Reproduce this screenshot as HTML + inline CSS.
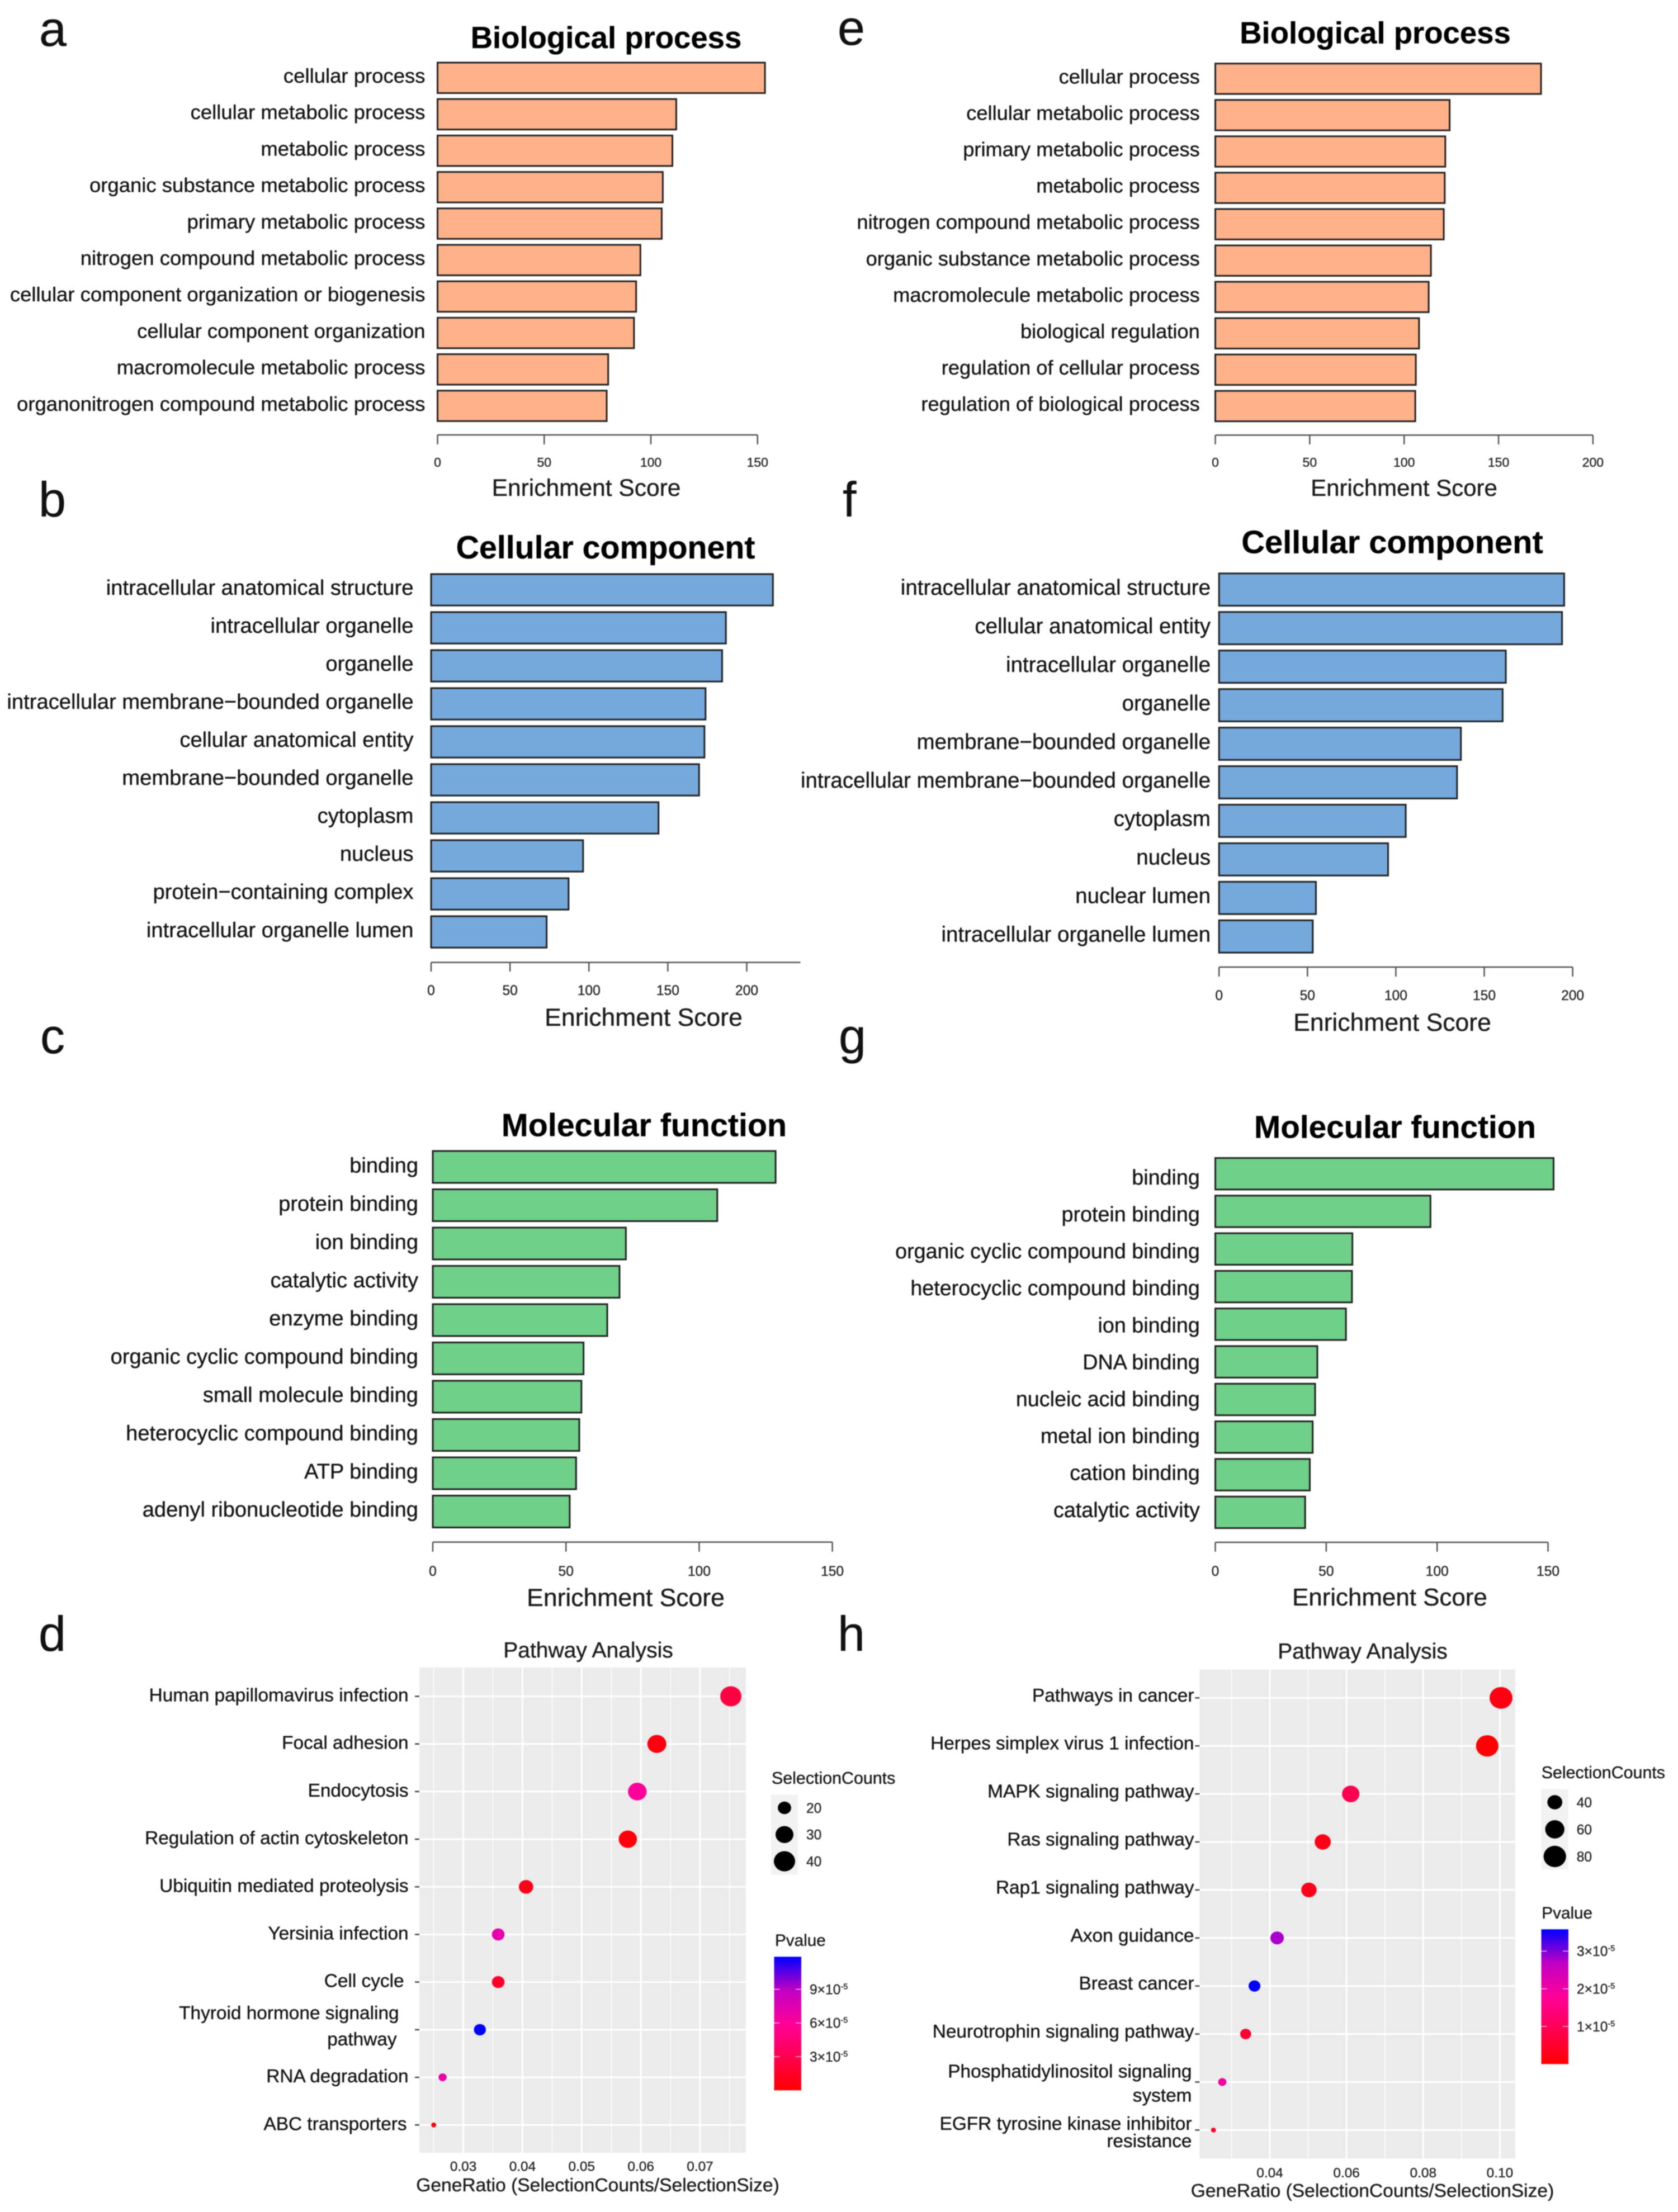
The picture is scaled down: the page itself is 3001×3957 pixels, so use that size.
<!DOCTYPE html>
<html lang="en">
<head>
<meta charset="utf-8">
<title>Enrichment and pathway analysis figure</title>
<style>
html,body{margin:0;padding:0;background:#fff;}
svg{display:block;filter:blur(0.8px);font-family:"Liberation Sans",Arial,sans-serif;}
text{stroke:#000;stroke-width:0.35px;}
.letter{font-size:88px;fill:#111;}
.title{font-weight:bold;fill:#000;text-anchor:middle;}
.axis-title{fill:#1c1c1c;text-anchor:middle;}
.path-title{fill:#1c1c1c;text-anchor:middle;font-size:39px;}
.gene-title{fill:#1c1c1c;text-anchor:middle;font-size:33.6px;}
.legend-title{fill:#1c1c1c;}
</style>
</head>
<body>
<svg xmlns="http://www.w3.org/2000/svg" width="3001" height="3957" viewBox="0 0 3001 3957">
  <defs>
    <linearGradient id="pvalue-gradient" x1="0" y1="1" x2="0" y2="0">
      <stop offset="0" stop-color="#ff0000"/>
      <stop offset="0.25" stop-color="#ff0050"/>
      <stop offset="0.5" stop-color="#ff0098"/>
      <stop offset="0.75" stop-color="#c000c4"/>
      <stop offset="1" stop-color="#0000ff"/>
    </linearGradient>
  </defs>
  <rect x="0" y="0" width="3001" height="3957" fill="#ffffff"/>

  <text class="letter" x="70" y="82">a</text>
  <text class="letter" x="69" y="924">b</text>
  <text class="letter" x="72" y="1884">c</text>
  <text class="letter" x="69" y="2953">d</text>
  <text class="letter" x="1498" y="80">e</text>
  <text class="letter" x="1507" y="924">f</text>
  <text class="letter" x="1500" y="1884">g</text>
  <text class="letter" x="1498" y="2953">h</text>

  <text class="title" x="1084" y="86" font-size="54.5">Biological process</text>
  <text class="axis-title" x="1048.5" y="887" font-size="42.5">Enrichment Score</text>
  <text class="title" x="2459.5" y="77.5" font-size="54.5">Biological process</text>
  <text class="axis-title" x="2511" y="887" font-size="42">Enrichment Score</text>
  <text class="title" x="1083" y="999" font-size="57.3">Cellular component</text>
  <text class="axis-title" x="1151" y="1835" font-size="44.5">Enrichment Score</text>
  <text class="title" x="2490" y="989.5" font-size="57.8">Cellular component</text>
  <text class="axis-title" x="2490" y="1844" font-size="44.5">Enrichment Score</text>
  <text class="title" x="1152" y="2032.4" font-size="57.4">Molecular function</text>
  <text class="axis-title" x="1119" y="2873" font-size="44.5">Enrichment Score</text>
  <text class="title" x="2495" y="2035.7" font-size="56.7">Molecular function</text>
  <text class="axis-title" x="2485.4" y="2872" font-size="43.9">Enrichment Score</text>

  <text class="path-title" x="1052" y="2965">Pathway Analysis</text>
  <text class="gene-title" x="1069" y="3920">GeneRatio (SelectionCounts/SelectionSize)</text>
  <text class="legend-title" x="1380" y="3191" font-size="30.4">SelectionCounts</text>
  <text class="legend-title" x="1386" y="3481" font-size="29.7">Pvalue</text>

  <text class="path-title" x="2437" y="2967">Pathway Analysis</text>
  <text class="gene-title" x="2454.5" y="3930">GeneRatio (SelectionCounts/SelectionSize)</text>
  <text class="legend-title" x="2756.7" y="3181" font-size="30.4">SelectionCounts</text>
  <text class="legend-title" x="2757.3" y="3432" font-size="29.7">Pvalue</text>

  <g id="panel-a"></g>
  <g id="panel-b"></g>
  <g id="panel-c"></g>
  <g id="panel-e"></g>
  <g id="panel-f"></g>
  <g id="panel-g"></g>
  <g id="panel-d"></g>
  <g id="panel-h"></g>
</svg>

<script>
/* ---------- Panel a ---------- */
const categoriesA = ["cellular process","cellular metabolic process","metabolic process","organic substance metabolic process","primary metabolic process","nitrogen compound metabolic process","cellular component organization or biogenesis","cellular component organization","macromolecule metabolic process","organonitrogen compound metabolic process"];
const valuesA = [153.5,111.9,110.1,105.6,105.1,95.1,93.1,92.1,80.0,79.3];
const ticksA = [0,50,100,150];

/* ---------- Panel b ---------- */
const categoriesB = ["intracellular anatomical structure","intracellular organelle","organelle","intracellular membrane\u2212bounded organelle","cellular anatomical entity","membrane\u2212bounded organelle","cytoplasm","nucleus","protein\u2212containing complex","intracellular organelle lumen"];
const valuesB = [216.6,186.8,184.4,173.9,173.2,169.8,144.1,96.3,87.1,73.2];
const ticksB = [0,50,100,150,200];

/* ---------- Panel c ---------- */
const categoriesC = ["binding","protein binding","ion binding","catalytic activity","enzyme binding","organic cyclic compound binding","small molecule binding","heterocyclic compound binding","ATP binding","adenyl ribonucleotide binding"];
const valuesC = [128.7,106.8,72.5,70.1,65.5,56.6,55.8,55.0,53.8,51.4];
const ticksC = [0,50,100,150];

/* ---------- Panel e ---------- */
const categoriesE = ["cellular process","cellular metabolic process","primary metabolic process","metabolic process","nitrogen compound metabolic process","organic substance metabolic process","macromolecule metabolic process","biological regulation","regulation of cellular process","regulation of biological process"];
const valuesE = [172.5,124.1,121.8,121.5,121.0,114.2,113.0,107.9,106.2,105.9];
const ticksE = [0,50,100,150,200];

/* ---------- Panel f ---------- */
const categoriesF = ["intracellular anatomical structure","cellular anatomical entity","intracellular organelle","organelle","membrane\u2212bounded organelle","intracellular membrane\u2212bounded organelle","cytoplasm","nucleus","nuclear lumen","intracellular organelle lumen"];
const valuesF = [195.2,194.0,162.2,160.4,136.8,134.6,105.6,95.6,54.8,53.0];
const ticksF = [0,50,100,150,200];

/* ---------- Panel g ---------- */
const categoriesG = ["binding","protein binding","organic cyclic compound binding","heterocyclic compound binding","ion binding","DNA binding","nucleic acid binding","metal ion binding","cation binding","catalytic activity"];
const valuesG = [152.5,97.0,61.8,61.6,58.9,46.0,45.0,43.9,42.6,40.5];
const ticksG = [0,50,100,150];

/* ---------- Panel d ---------- */
const pathwaysD = ["Human papillomavirus infection","Focal adhesion","Endocytosis","Regulation of actin cytoskeleton","Ubiquitin mediated proteolysis","Yersinia infection","Cell cycle","Thyroid hormone signaling\npathway","RNA degradation","ABC transporters"];
const geneRatioD = [0.0752,0.0627,0.0594,0.0578,0.0406,0.0359,0.0359,0.0328,0.0265,0.0250];
const countsD = [40,33,32,31,22,19,19,18,14,13];
const pvaluesD = [2.5e-5,0.7e-5,6.0e-5,0.5e-5,1.0e-5,7.1e-5,1.6e-5,11.9e-5,7.0e-5,0.5e-5];
const xTicksD = [0.03,0.04,0.05,0.06,0.07];
const xMinorTicksD = [0.025,0.035,0.045,0.055,0.065,0.075];
const sizeLegendD = [20,30,40];
const pvalueTicksD = [3e-5,6e-5,9e-5];

/* ---------- Panel h ---------- */
const pathwaysH = ["Pathways in cancer","Herpes simplex virus 1 infection","MAPK signaling pathway","Ras signaling pathway","Rap1 signaling pathway","Axon guidance","Breast cancer","Neurotrophin signaling pathway","Phosphatidylinositol signaling\nsystem","EGFR tyrosine kinase inhibitor\nresistance"];
const geneRatioH = [0.1003,0.0967,0.0611,0.0538,0.0502,0.0419,0.0360,0.0337,0.0276,0.0253];
const countsH = [83,80,51,45,42,35,30,28,23,21];
const pvaluesH = [0.2e-5,0.05e-5,0.9e-5,0.25e-5,0.3e-5,2.8e-5,3.58e-5,0.55e-5,1.95e-5,0.5e-5];
const xTicksH = [0.04,0.06,0.08,0.10];
const xMinorTicksH = [0.03,0.05,0.07,0.09];
const sizeLegendH = [40,60,80];
const pvalueTicksH = [1e-5,2e-5,3e-5];

const SVG_NS = "http://www.w3.org/2000/svg";

function make(tag, attrs, parent, text) {
  const node = document.createElementNS(SVG_NS, tag);
  for (const key in attrs) node.setAttribute(key, attrs[key]);
  if (text !== undefined) node.textContent = text;
  parent.appendChild(node);
  return node;
}

function drawBarPanel(id, categories, values, ticks, cfg) {
  const root = document.getElementById(id);
  const xScale = v => cfg.x0 + v * cfg.pxPerUnit;
  const yTop = i => cfg.barTop + i * cfg.barPitch;

  categories.forEach((name, i) => {
    const bar = make("rect", {x: xScale(0), y: yTop(i), width: xScale(values[i]) - xScale(0), height: cfg.barHeight, fill: cfg.fill, stroke: "#222", "stroke-width": 3}, root);
    
    
    const labelCenter = cfg.labelTop + i * cfg.labelPitch;
    const label = make("text", {x: cfg.labelRight, y: labelCenter + cfg.labelSize * 0.33, "font-size": cfg.labelSize, "text-anchor": "end", fill: "#151515"}, root, name);
    
    
  });

  const axisLine = make("line", {x1: xScale(0), x2: xScale(cfg.axisMax), y1: cfg.axisY, y2: cfg.axisY, stroke: "#555", "stroke-width": 2.5}, root);
  
  

  ticks.forEach(t => {
    const tick = make("line", {x1: xScale(t), x2: xScale(t), y1: cfg.axisY, y2: cfg.tickEnd, stroke: "#555", "stroke-width": 2.5}, root);
    
    
    const tickLabel = make("text", {x: xScale(t), y: cfg.tickLabelY + cfg.tickSize * 0.36, "font-size": cfg.tickSize, "text-anchor": "middle", fill: "#2e2e2e"}, root, String(t));
    
    
  });
}

const pColorStops = [[0,[255,0,0]],[0.25,[255,0,80]],[0.5,[255,0,152]],[0.75,[192,0,196]],[1,[0,0,255]]];
function pColor(fraction) {
  const f = Math.max(0, Math.min(1, fraction));
  for (let i = 1; i < pColorStops.length; i++) {
    if (f <= pColorStops[i][0]) {
      const a = pColorStops[i - 1], b = pColorStops[i];
      const t = (f - a[0]) / (b[0] - a[0]);
      const c = a[1].map((v, k) => Math.round(v + (b[1][k] - v) * t));
      return "rgb(" + c.join(",") + ")";
    }
  }
  return "rgb(0,0,255)";
}

function drawDotPanel(id, pathways, ratios, counts, pvalues, xTicks, xMinor, sizeTicks, pTicks, cfg) {
  const root = document.getElementById(id);
  const xScale = v => cfg.tickX0 + (v - cfg.tickV0) * cfg.pxPerUnit;
  const yScale = i => cfg.rowTop + i * cfg.rowPitch;
  const diameter = c => cfg.dMin + (cfg.dMax - cfg.dMin) * Math.sqrt(Math.max(0, (c - cfg.cMin) / (cfg.cMax - cfg.cMin)));

  const plotArea = make("rect", {x: cfg.left, y: cfg.top, width: cfg.right - cfg.left, height: cfg.bottom - cfg.top, fill: "#ebebeb"}, root);
  
  

  xMinor.forEach(t => {
    const g = make("line", {x1: xScale(t), x2: xScale(t), y1: cfg.top, y2: cfg.bottom, stroke: "#fff", "stroke-width": 1.5}, root);
    
    
  });
  xTicks.forEach(t => {
    const g = make("line", {x1: xScale(t), x2: xScale(t), y1: cfg.top, y2: cfg.bottom, stroke: "#fff", "stroke-width": 3}, root);
    
    
    const lab = make("text", {x: xScale(t), y: cfg.xLabelY + 8.8, "font-size": 24.4, "text-anchor": "middle", fill: "#2e2e2e"}, root, t.toFixed(2));
    
    
  });

  pathways.forEach((name, i) => {
    const y = yScale(i);
    const grid = make("line", {x1: cfg.left, x2: cfg.right, y1: y, y2: y, stroke: "#fff", "stroke-width": 3}, root);
    
    
    const tick = make("line", {x1: cfg.left - 8, x2: cfg.left, y1: y, y2: y, stroke: "#444", "stroke-width": 2.5}, root);
    
    

    const lines = name.split("\n");
    const nudge = cfg.labelNudge[i] || 0;
    const gap = cfg.lineGap[i] || 0;
    const shift = cfg.lineShift[i] || 0;
    lines.forEach((line, k) => {
      const cy = y + cfg.labelLift + shift + (k - (lines.length - 1) / 2) * gap;
      const lab = make("text", {x: cfg.labelRight + nudge - (k * (cfg.secondLineNudge || 0)), y: cy + 33.4 * 0.33, "font-size": 33.4, "text-anchor": "end", fill: "#151515"}, root, line);
      
      
    });
  });

  pathways.forEach((name, i) => {
    const d = diameter(counts[i]);
    const dot = make("ellipse", {cx: xScale(ratios[i]), cy: yScale(i), rx: d / 2, ry: d / 2 * 0.95, fill: pColor(pvalues[i] / cfg.pMax)}, root);
    
    
  });

  /* size legend */
  const keyBox = make("rect", {x: cfg.keyX, y: cfg.keyY, width: 48, height: cfg.keyH, fill: "#f2f2f2"}, root);
  
  
  sizeTicks.forEach((c, i) => {
    const cy = cfg.keyRow0 + i * cfg.keyPitch;
    const d = diameter(c);
    const key = make("ellipse", {cx: cfg.keyX + 24, cy: cy, rx: d / 2, ry: d / 2 * 0.95, fill: "#000"}, root);
    
    
    const lab = make("text", {x: cfg.keyX + 63, y: cy + 8.8, "font-size": 24.6, fill: "#2e2e2e"}, root, String(c));
    
    
  });

  /* colour legend */
  const barHeight = cfg.barBottom - cfg.barTop;
  const colorBar = make("rect", {x: cfg.barX, y: cfg.barTop, width: 48.5, height: barHeight, fill: "url(#pvalue-gradient)"}, root);
  
  
  pTicks.forEach(p => {
    const y = cfg.barBottom - (p / cfg.pMax) * barHeight;
    const leftTick = make("line", {x1: cfg.barX, x2: cfg.barX + 10, y1: y, y2: y, stroke: "#fff", "stroke-opacity": 0.7, "stroke-width": 1.5}, root);
    
    
    const rightTick = make("line", {x1: cfg.barX + 38.5, x2: cfg.barX + 48.5, y1: y, y2: y, stroke: "#fff", "stroke-opacity": 0.7, "stroke-width": 1.5}, root);
    
    
    const lab = make("text", {x: cfg.barX + 63.5, y: y + 8.8, "font-size": 24.6, fill: "#2e2e2e"}, root, Math.round(p * 1e5) + "\u00d710");
    
    
    const sup = make("tspan", {"font-size": 14.5, dy: -9}, lab, "-5");
    
    
  });
}

const FILL_ORANGE = "#ffb28a";
const FILL_BLUE = "#75a8dc";
const FILL_GREEN = "#70cf88";

drawBarPanel("panel-a", categoriesA, valuesA, ticksA, {x0: 782.5, pxPerUnit: 3.815, axisMax: 150, barTop: 112, barHeight: 54.5, barPitch: 65.2, fill: FILL_ORANGE, axisY: 778, tickEnd: 795, tickLabelY: 826.6, tickSize: 23, labelRight: 760.5, labelSize: 36.5, labelTop: 136, labelPitch: 65.2});
drawBarPanel("panel-e", categoriesE, valuesE, ticksE, {x0: 2173.5, pxPerUnit: 3.377, axisMax: 200, barTop: 113.7, barHeight: 54.4, barPitch: 65.06, fill: FILL_ORANGE, axisY: 778.4, tickEnd: 795, tickLabelY: 826.6, tickSize: 23, labelRight: 2145.8, labelSize: 36.3, labelTop: 137.5, labelPitch: 65.06});
drawBarPanel("panel-b", categoriesB, valuesB, ticksB, {x0: 771, pxPerUnit: 2.8225, axisMax: 234, barTop: 1027, barHeight: 56.2, barPitch: 68, fill: FILL_BLUE, axisY: 1721.6, tickEnd: 1738, tickLabelY: 1771, tickSize: 24.6, labelRight: 739.5, labelSize: 38.2, labelTop: 1051.3, labelPitch: 68.04});
drawBarPanel("panel-f", categoriesF, valuesF, ticksF, {x0: 2180.2, pxPerUnit: 3.162, axisMax: 200, barTop: 1025.8, barHeight: 57.8, barPitch: 68.95, fill: FILL_BLUE, axisY: 1730, tickEnd: 1747, tickLabelY: 1780, tickSize: 24.6, labelRight: 2165, labelSize: 38.5, labelTop: 1051.3, labelPitch: 68.95});
drawBarPanel("panel-c", categoriesC, valuesC, ticksC, {x0: 774, pxPerUnit: 4.764, axisMax: 150, barTop: 2059, barHeight: 57, barPitch: 68.5, fill: FILL_GREEN, axisY: 2758.6, tickEnd: 2775.8, tickLabelY: 2810, tickSize: 24.6, labelRight: 748, labelSize: 38.1, labelTop: 2085, labelPitch: 68.4});
drawBarPanel("panel-g", categoriesG, valuesG, ticksG, {x0: 2173.5, pxPerUnit: 3.967, axisMax: 150, barTop: 2071.5, barHeight: 56.4, barPitch: 67.3, fill: FILL_GREEN, axisY: 2759, tickEnd: 2775.8, tickLabelY: 2810, tickSize: 24.6, labelRight: 2145.8, labelSize: 37.7, labelTop: 2106.5, labelPitch: 66.1});

drawDotPanel("panel-d", pathwaysD, geneRatioD, countsD, pvaluesD, xTicksD, xMinorTicksD, sizeLegendD, pvalueTicksD, {
  left: 750, right: 1333.7, top: 2983, bottom: 3851,
  tickX0: 828.6, tickV0: 0.03, pxPerUnit: 10585,
  rowTop: 3034.5, rowPitch: 85.2, xLabelY: 3874.5,
  labelRight: 730.6, labelLift: -2, labelNudge: {6: -8, 7: -17, 9: -3}, lineGap: {7: 47}, lineShift: {7: -4.5}, secondLineNudge: 4,
  cMin: 13, cMax: 40, dMin: 9, dMax: 38, pMax: 11.9e-5,
  keyX: 1379, keyY: 3210.7, keyH: 142.9, keyRow0: 3234, keyPitch: 47.8,
  barX: 1384.5, barTop: 3500.4, barBottom: 3739.3
});

drawDotPanel("panel-h", pathwaysH, geneRatioH, countsH, pvaluesH, xTicksH, xMinorTicksH, sizeLegendH, pvalueTicksH, {
  left: 2145.3, right: 2710, top: 2986.5, bottom: 3861.5,
  tickX0: 2271, tickV0: 0.04, pxPerUnit: 6857,
  rowTop: 3037.3, rowPitch: 85.9, xLabelY: 3886,
  labelRight: 2135.5, labelLift: -4.5, labelNudge: {8: -4, 9: -4}, lineGap: {8: 43, 9: 31}, lineShift: {8: 7, 9: 8.5}, secondLineNudge: 0,
  cMin: 21, cMax: 83, dMin: 9, dMax: 41, pMax: 3.58e-5,
  keyX: 2756.7, keyY: 3200.4, keyH: 144.2, keyRow0: 3224, keyPitch: 48.5,
  barX: 2756.5, barTop: 3451.3, barBottom: 3692.4
});
</script>
</body>
</html>
